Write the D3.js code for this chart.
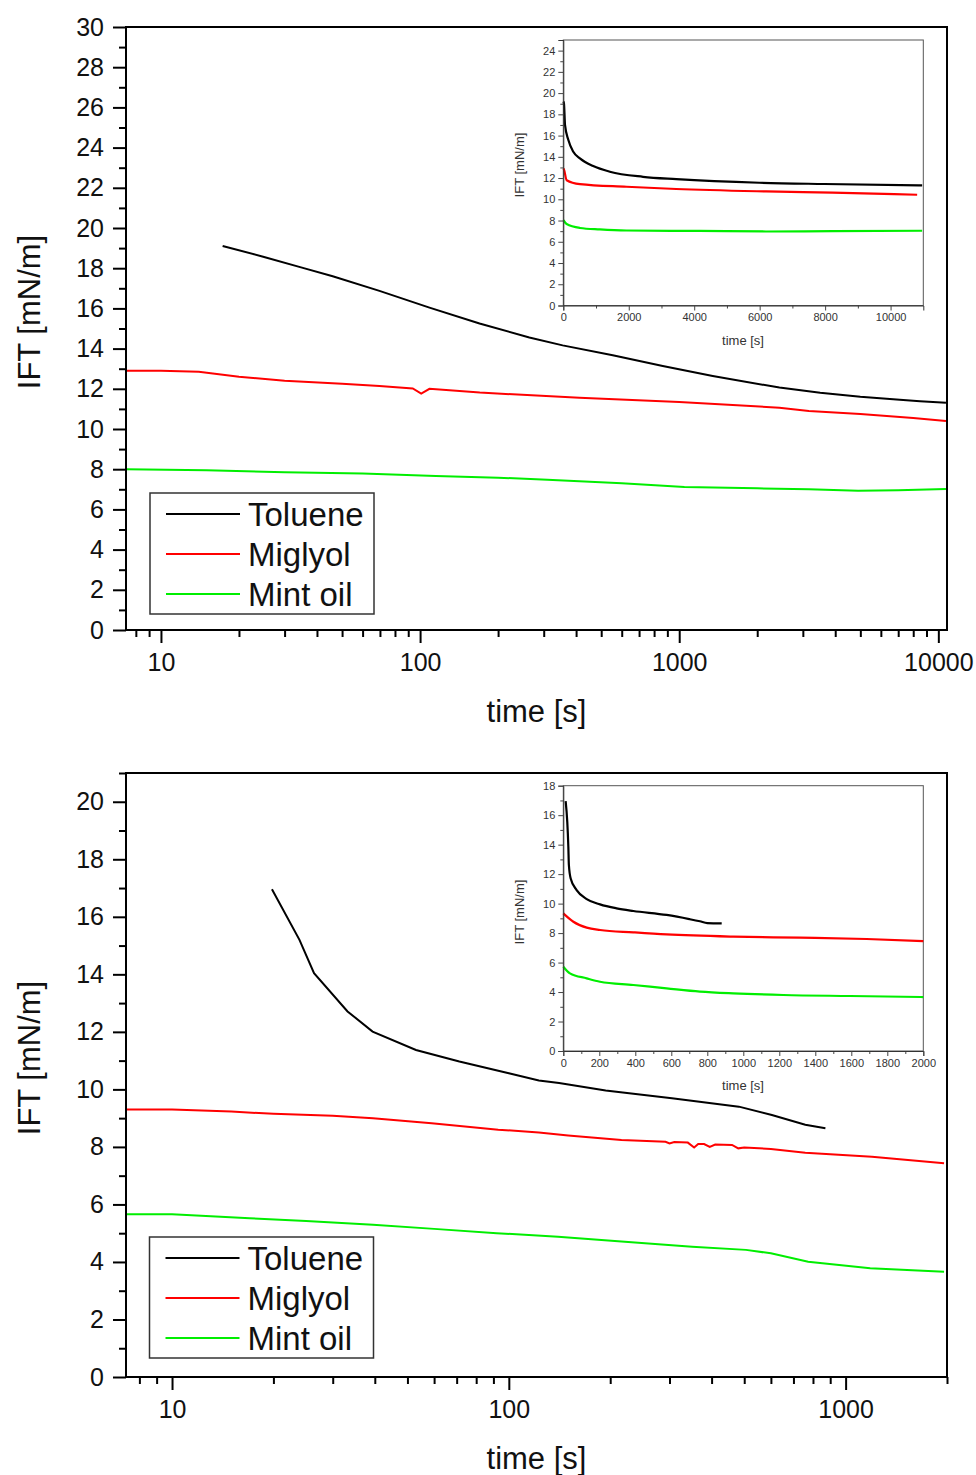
<!DOCTYPE html>
<html>
<head>
<meta charset="utf-8">
<script src="https://cdnjs.cloudflare.com/ajax/libs/d3/7.8.5/d3.min.js"></script>
<style>
  body { margin: 0; background: #fff; }
  svg { font-family: "Liberation Sans", Arial, sans-serif; }
</style>
</head>
<body>
<div id="chart"></div>
<script>

// ---- data: [time s, IFT mN/m] ----
var seriesNames = ["Toluene", "Miglyol", "Mint oil"];
var seriesColors = ["#000000", "#ff0000", "#00ee00"];

// upper panel, log time
var topToluene = [[17.3, 19.1], [25, 18.56], [35, 18.03], [46, 17.6], [69.7, 16.87], [108.7, 16.04],
    [169.6, 15.25], [264, 14.55], [355, 14.16], [554, 13.67], [864, 13.13], [1347, 12.64], [2436, 12.06],
    [3500, 11.8], [5000, 11.6], [7100, 11.45], [8500, 11.38], [10700, 11.3]];
var topMiglyol = [[7.33, 12.9], [10, 12.9], [14, 12.85], [20, 12.6], [30, 12.4], [50, 12.25], [69.7, 12.14],
    [93.7, 12.02], [101, 11.76], [108.7, 12.0], [170, 11.81], [412, 11.56], [1000, 11.34], [2436, 11.06],
    [3165, 10.9], [5000, 10.75], [8000, 10.55], [10700, 10.4]];
var topMint = [[7.33, 8.0], [15, 7.95], [30, 7.85], [60, 7.78], [115, 7.66], [200, 7.58], [310, 7.48],
    [600, 7.3], [1047, 7.12], [2000, 7.05], [3165, 7.0], [4900, 6.93], [7000, 6.95], [10700, 7.02]];

// upper inset, linear time
var topInToluene = [[5, 19.2], [21, 19.0], [52, 17.0], [152, 15.6], [305, 14.48], [508, 13.85], [914, 13.13],
    [1422, 12.6], [2436, 12.12], [3453, 11.9], [5990, 11.56], [7970, 11.44], [10965, 11.31]];
var topInMiglyol = [[5, 12.9], [21, 12.8], [103, 11.8], [508, 11.43], [1930, 11.18], [3453, 10.97],
    [6193, 10.74], [8223, 10.62], [10812, 10.43]];
var topInMint = [[5, 8.04], [102, 7.67], [508, 7.3], [1117, 7.16], [1930, 7.06], [4162, 7.02], [6193, 6.97],
    [8223, 7.0], [10965, 7.04]];

// lower panel, log time
var botToluene = [[19.8, 16.96], [23.9, 15.2], [26.4, 14.04], [33.2, 12.71], [39.4, 12.01], [53, 11.37],
    [71.3, 10.97], [100, 10.56], [122.8, 10.31], [141, 10.22], [193.9, 9.96], [305, 9.69], [482, 9.4],
    [604, 9.11], [759, 8.77], [871, 8.65]];
var botMiglyol = [[7.3, 9.3], [10, 9.3], [15, 9.23], [20, 9.15], [30, 9.08], [39.5, 9.0], [59, 8.82],
    [93, 8.6], [122.8, 8.5], [150, 8.4], [216, 8.24], [292, 8.18], [300, 8.12], [310, 8.17], [340, 8.15],
    [355, 7.98], [365, 8.1], [380, 8.1], [395, 8.0], [410, 8.08], [460, 8.07], [480, 7.95], [500, 7.98],
    [600, 7.93], [759, 7.8], [1197, 7.66], [1960, 7.43]];
var botMint = [[7.3, 5.66], [10, 5.66], [17, 5.52], [25, 5.42], [39.5, 5.29], [60, 5.15], [92, 5.0],
    [140, 4.88], [216, 4.71], [350, 4.53], [506, 4.42], [600, 4.3], [774, 4.01], [1183, 3.78], [1960, 3.66]];

// lower inset, linear time
var botInToluene = [[13, 16.96], [22, 15.56], [28, 13.86], [31, 12.62], [41, 11.71], [74, 10.92], [130, 10.31],
    [204, 9.95], [296, 9.68], [389, 9.5], [574, 9.23], [700, 8.95], [759, 8.8], [800, 8.68], [880, 8.66]];
var botInMiglyol = [[0, 9.34], [56, 8.77], [130, 8.37], [204, 8.21], [389, 8.05], [574, 7.91], [944, 7.76],
    [1315, 7.69], [1685, 7.6], [2000, 7.46]];
var botInMint = [[0, 5.72], [37, 5.27], [130, 4.93], [204, 4.7], [389, 4.48], [574, 4.25], [759, 4.03],
    [944, 3.91], [1222, 3.8], [1593, 3.73], [2000, 3.66]];

// tick values
var logMajor = [10, 100, 1000, 10000];
var topYTicks = d3.range(0, 31, 2);
var botYTicks = d3.range(0, 21, 2);
var topInXTicks = d3.range(0, 10001, 2000);
var topInYTicks = d3.range(0, 25, 2);
var botInXTicks = d3.range(0, 2001, 200);
var botInYTicks = d3.range(0, 19, 2);

var svg = d3.select('#chart')
    .append('svg')
    .attr('width', 976)
    .attr('height', 1475);

// minor ticks 2..9 of each decade for a log scale
function logMinor(domain) {
    var out = [];
    for (var e = -1; e < 6; e++) {
        for (var k = 2; k < 10; k++) {
            var v = k * Math.pow(10, e);
            if (v >= domain[0] && v <= domain[1]) out.push(v);
        }
    }
    return out;
}

function mainPanel(p) {
    var x = d3.scaleLog().domain(p.xDomain).range([p.left, p.right]);
    var y = d3.scaleLinear().domain(p.yDomain).range([p.bottom, p.top]);

    var g = svg.append('g');

    // series
    p.series.forEach(function (s, i) {
        g.append('path')
            .datum(s)
            .attr('fill', 'none')
            .attr('stroke', seriesColors[i])
            .attr('stroke-width', 2)
            .attr('d', d3.line().x(d => x(d[0])).y(d => y(d[1])));
    });

    // y axis, major + minor
    var yMinor = d3.range(1, p.yDomain[1] + 0.5, 2);
    g.append('g')
        .attr('transform', `translate(${p.left},0)`)
        .call(d3.axisLeft(y).tickValues(yMinor).tickSize(7).tickFormat(''))
        .call(a => a.select('.domain').remove())
        .selectAll('line').attr('stroke-width', 2);
    var ya = g.append('g')
        .attr('transform', `translate(${p.left},0)`)
        .call(d3.axisLeft(y).tickValues(p.yTicks).tickSize(13).tickPadding(9));
    ya.select('.domain').remove();
    ya.selectAll('line').attr('stroke-width', 2);
    ya.selectAll('text').attr('font-size', 25).attr('fill', '#111').attr('font-family', null);

    // x axis, major + minor
    g.append('g')
        .attr('transform', `translate(0,${p.bottom})`)
        .call(d3.axisBottom(x).tickValues(logMinor(p.xDomain)).tickSize(7).tickFormat(''))
        .call(a => a.select('.domain').remove())
        .selectAll('line').attr('stroke-width', 2);
    var xa = g.append('g')
        .attr('transform', `translate(0,${p.bottom})`)
        .call(d3.axisBottom(x).tickValues(logMajor.filter(v => v <= p.xDomain[1]))
            .tickSize(13).tickPadding(10).tickFormat(d3.format('d')));
    xa.select('.domain').remove();
    xa.selectAll('line').attr('stroke-width', 2);
    xa.selectAll('text').attr('font-size', 25).attr('fill', '#111').attr('font-family', null);

    // frame
    g.append('rect')
        .attr('x', p.left).attr('y', p.top)
        .attr('width', p.right - p.left).attr('height', p.bottom - p.top)
        .attr('fill', 'none').attr('stroke', '#000').attr('stroke-width', 2);

    // titles
    g.append('text')
        .attr('x', (p.left + p.right) / 2).attr('y', p.bottom + 92)
        .attr('text-anchor', 'middle').attr('font-size', 31).attr('fill', '#111')
        .text('time [s]');
    g.append('text')
        .attr('transform', `translate(40,${p.yTitle}) rotate(-90)`)
        .attr('text-anchor', 'middle').attr('font-size', 31).attr('fill', '#111')
        .text('IFT [mN/m]');

    // legend
    var lg = g.append('g').attr('transform', `translate(${p.legend[0]},${p.legend[1]})`);
    lg.append('rect')
        .attr('width', 224).attr('height', 121)
        .attr('fill', '#fff').attr('stroke', '#333').attr('stroke-width', 1.5);
    seriesNames.forEach(function (name, i) {
        var yy = 21 + i * 40;
        lg.append('line')
            .attr('x1', 16).attr('x2', 90).attr('y1', yy).attr('y2', yy)
            .attr('stroke', seriesColors[i]).attr('stroke-width', 2);
        lg.append('text')
            .attr('x', 98).attr('y', yy).attr('dy', '0.36em')
            .attr('font-size', 33).attr('fill', '#111')
            .text(name);
    });
}

function insetPanel(p) {
    var x = d3.scaleLinear().domain(p.xDomain).range([p.left, p.right]);
    var y = d3.scaleLinear().domain(p.yDomain).range([p.bottom, p.top]);
    var g = svg.append('g');

    g.append('rect')
        .attr('x', p.left).attr('y', p.top)
        .attr('width', p.right - p.left).attr('height', p.bottom - p.top)
        .attr('fill', 'none').attr('stroke', '#555').attr('stroke-width', 1);

    p.series.forEach(function (s, i) {
        g.append('path')
            .datum(s)
            .attr('fill', 'none')
            .attr('stroke', seriesColors[i])
            .attr('stroke-width', 2.2)
            .attr('d', d3.line().curve(d3.curveMonotoneX).x(d => x(d[0])).y(d => y(d[1])));
    });

    var yMinor = d3.range(1, p.yDomain[1], 2);
    g.append('g')
        .attr('transform', `translate(${p.left},0)`)
        .call(d3.axisLeft(y).tickValues(yMinor).tickSize(3).tickFormat(''))
        .call(a => a.select('.domain').remove())
        .selectAll('line').attr('stroke', '#444');
    var ya = g.append('g')
        .attr('transform', `translate(${p.left},0)`)
        .call(d3.axisLeft(y).tickValues(p.yTicks).tickSize(5).tickPadding(3));
    ya.select('.domain').attr('stroke', '#333');
    ya.selectAll('line').attr('stroke', '#444');
    ya.selectAll('text').attr('font-size', 11).attr('fill', '#333').attr('font-family', null);

    g.append('g')
        .attr('transform', `translate(0,${p.bottom})`)
        .call(d3.axisBottom(x).tickValues(p.xMinor).tickSize(3).tickFormat(''))
        .call(a => a.select('.domain').remove())
        .selectAll('line').attr('stroke', '#444');
    var xa = g.append('g')
        .attr('transform', `translate(0,${p.bottom})`)
        .call(d3.axisBottom(x).tickValues(p.xTicks).tickSize(5).tickPadding(3).tickFormat(d3.format('d')));
    xa.select('.domain').attr('stroke', '#333');
    xa.selectAll('line').attr('stroke', '#444');
    xa.selectAll('text').attr('font-size', 11).attr('fill', '#333').attr('font-family', null);

    g.append('text')
        .attr('x', 743).attr('y', p.bottom + 39)
        .attr('text-anchor', 'middle').attr('font-size', 13).attr('fill', '#333')
        .text('time [s]');
    g.append('text')
        .attr('transform', `translate(524,${p.yTitle}) rotate(-90)`)
        .attr('text-anchor', 'middle').attr('font-size', 13).attr('fill', '#333')
        .text('IFT [mN/m]');
}

mainPanel({
    left: 126, right: 947, top: 27, bottom: 630,
    xDomain: [7.33, 10800], yDomain: [0, 30], yTicks: topYTicks,
    series: [topToluene, topMiglyol, topMint],
    yTitle: 312, legend: [150, 493]
});

insetPanel({
    left: 563.3, right: 923.3, top: 40, bottom: 305.5,
    xDomain: [0, 11000], yDomain: [0, 25],
    xTicks: topInXTicks, xMinor: d3.range(1000, 10001, 2000), yTicks: topInYTicks,
    series: [topInToluene, topInMiglyol, topInMint],
    yTitle: 165
});

mainPanel({
    left: 126, right: 947, top: 773, bottom: 1377,
    xDomain: [7.3, 2000], yDomain: [0, 21], yTicks: botYTicks,
    series: [botToluene, botMiglyol, botMint],
    yTitle: 1058, legend: [149.5, 1237]
});

insetPanel({
    left: 563.3, right: 923.3, top: 785.7, bottom: 1051,
    xDomain: [0, 2000], yDomain: [0, 18],
    xTicks: botInXTicks, xMinor: d3.range(100, 2000, 200), yTicks: botInYTicks,
    series: [botInToluene, botInMiglyol, botInMint],
    yTitle: 912
});

</script>
</body>
</html>
